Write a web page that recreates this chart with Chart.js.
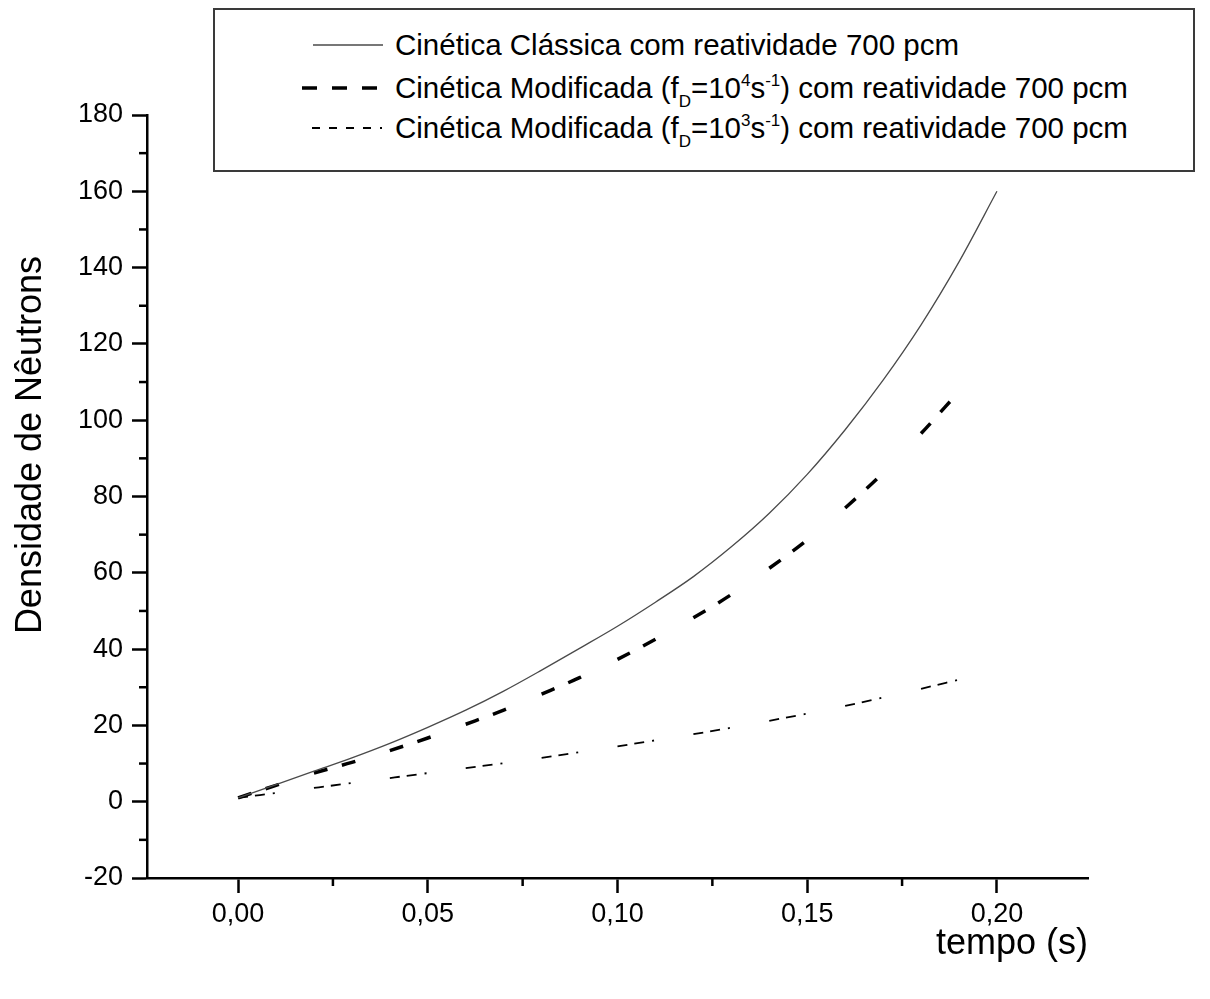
<!DOCTYPE html>
<html>
<head>
<meta charset="utf-8">
<script src="https://cdn.jsdelivr.net/npm/chart.js@4.4.1/dist/chart.umd.min.js"></script>
<style>
  html, body { margin: 0; padding: 0; background: #fff; }
  #wrap { position: relative; width: 1210px; height: 999px; }
  #chartLegend {
    position: absolute; left: 213px; top: 8px; width: 982px; height: 164px;
    box-sizing: border-box; border: 2px solid #3a3a3a; background: #fff;
    font-family: "Liberation Sans", Arial, sans-serif; font-size: 29.5px; color: #000;
  }
  .legend-row { position: absolute; left: 85px; height: 40px; display: flex; align-items: center; white-space: nowrap; }
  .legend-row svg { width: 84px; height: 20px; margin-right: 11px; flex: none; }
  .legend-row sub { font-size: 17px; line-height: 0; vertical-align: -9px; }
  .legend-row sup { font-size: 17px; line-height: 0; vertical-align: 12px; }
</style>
</head>
<body>
<div id="wrap">
  <canvas id="kineticsChart" width="1210" height="999"></canvas>
  <div id="chartLegend"></div>
</div>
<script>
// tempo (s)
const tempo = [0.00, 0.01, 0.02, 0.03, 0.04, 0.05, 0.06, 0.07, 0.08, 0.09, 0.10,
               0.11, 0.12, 0.13, 0.14, 0.15, 0.16, 0.17, 0.18, 0.19, 0.20];

// densidade de neutrons
const classica = [1, 4.5, 8, 11.5, 15.3, 19.5, 24, 29, 34.5, 40.2, 46,
                  52.3, 59, 66.8, 75.6, 85.8, 97.5, 110.5, 125, 141.5, 160];
const modificada4 = [1, 4.3, 7.5, 10.3, 13.4, 16.7, 20.3, 24, 28.2, 32.5, 37.3,
                     42.6, 48.2, 54.3, 61.2, 68.6, 77, 86.2, 96.5, 107.5];
const modificada3 = [1, 2.3, 3.6, 4.9, 6.2, 7.5, 8.8, 10.1, 11.5, 13, 14.5,
                     16.1, 17.7, 19.4, 21.2, 23.1, 25.1, 27.3, 29.6, 32];

const xTicks = [0, 0.05, 0.10, 0.15, 0.20];
const xMinorTicks = [0.025, 0.075, 0.125, 0.175];
const yMinorTicks = [-10, 10, 30, 50, 70, 90, 110, 130, 150, 170];

const legendLabels = [
    'Cinética Clássica com reatividade 700 pcm',
    'Cinética Modificada (f<sub>D</sub>=10<sup>4</sup>s<sup>-1</sup>) com reatividade 700 pcm',
    'Cinética Modificada (f<sub>D</sub>=10<sup>3</sup>s<sup>-1</sup>) com reatividade 700 pcm'
];
const legendDash = ['', '15 15', '8 9 8 9 8 9 8 9 2 40'];
const legendSampleFrom = [13, 2, 12];
const legendSampleTo = [83, 77, 82];
const legendRowTop = [15, 58, 98];

const FONT = '"Liberation Sans", Arial, sans-serif';

function toPoints(values) {
    return values.map((v, i) => ({ x: tempo[i], y: v }));
}

// restart the dash pattern every two intervals, like Origin does
function dashRestart(ctx) {
    return Math.floor(ctx.p0DataIndex / 2) % 2 ? 0.001 : 0;
}

const minorTicks = {
    id: 'minorTicks',
    afterDraw(chart) {
        const { ctx, chartArea, scales: { x, y } } = chart;
        ctx.save();
        ctx.strokeStyle = '#000';
        ctx.lineWidth = 2.5;
        yMinorTicks.forEach(v => {
            const py = y.getPixelForValue(v);
            ctx.beginPath();
            ctx.moveTo(chartArea.left - 8, py);
            ctx.lineTo(chartArea.left, py);
            ctx.stroke();
        });
        xMinorTicks.forEach(v => {
            const px = x.getPixelForValue(v);
            ctx.beginPath();
            ctx.moveTo(px, chartArea.bottom);
            ctx.lineTo(px, chartArea.bottom + 8);
            ctx.stroke();
        });
        ctx.restore();
    }
};

const yTitle = {
    id: 'yTitle',
    afterDraw(chart) {
        const ctx = chart.ctx;
        ctx.save();
        ctx.translate(31, 445);
        ctx.rotate(-Math.PI / 2);
        ctx.font = '36px ' + FONT;
        ctx.fillStyle = '#000';
        ctx.textAlign = 'center';
        ctx.textBaseline = 'middle';
        ctx.fillText('Densidade de Nêutrons', 0, 0);
        ctx.restore();
    }
};

const htmlLegend = {
    id: 'htmlLegend',
    afterUpdate(chart) {
        const box = document.getElementById('chartLegend');
        box.innerHTML = '';
        chart.data.datasets.forEach((ds, i) => {
            const row = document.createElement('div');
            row.className = 'legend-row';
            row.style.top = legendRowTop[i] + 'px';
            const dash = legendDash[i] ? ' stroke-dasharray="' + legendDash[i] + '"' : '';
            row.innerHTML =
                '<svg viewBox="0 0 84 20"><line x1="' + legendSampleFrom[i] + '" y1="10" x2="' + legendSampleTo[i] +
                '" y2="10" stroke="' + ds.borderColor + '" stroke-width="' + ds.borderWidth + '"' + dash + '/></svg>' +
                '<span>' + legendLabels[i] + '</span>';
            box.appendChild(row);
        });
    }
};

document.addEventListener('DOMContentLoaded', function() {
    const ctx = document.getElementById('kineticsChart').getContext('2d');
    new Chart(ctx, {
        type: 'line',
        data: {
            datasets: [{
                label: 'Cinética Clássica com reatividade 700 pcm',
                data: toPoints(classica),
                borderColor: '#4a4a4a',
                borderWidth: 1.3
            }, {
                label: 'Cinética Modificada (fD=10^4 s^-1) com reatividade 700 pcm',
                data: toPoints(modificada4),
                borderColor: '#000',
                borderWidth: 3.5,
                borderDash: [14, 15, 14, 400],
                segment: { borderDashOffset: dashRestart }
            }, {
                label: 'Cinética Modificada (fD=10^3 s^-1) com reatividade 700 pcm',
                data: toPoints(modificada3),
                borderColor: '#000',
                borderWidth: 1.8,
                borderDash: [10, 7, 10, 8, 2, 400],
                segment: { borderDashOffset: dashRestart }
            }]
        },
        options: {
            responsive: false,
            animation: false,
            parsing: false,
            layout: { padding: { top: 115, right: 122, left: 0, bottom: 0 } },
            elements: {
                point: { radius: 0 },
                line: { fill: false, cubicInterpolationMode: 'monotone' }
            },
            plugins: {
                legend: { display: false },
                tooltip: { enabled: false }
            },
            scales: {
                x: {
                    type: 'linear',
                    min: -0.024,
                    max: 0.224,
                    afterFit: s => { s.height = 121; },
                    afterBuildTicks: s => { s.ticks = xTicks.map(v => ({ value: v })); },
                    grid: { drawOnChartArea: false, tickLength: 15, tickWidth: 2.5, tickColor: '#000' },
                    border: { color: '#000', width: 2.5 },
                    ticks: {
                        padding: 5,
                        color: '#000',
                        font: { family: FONT, size: 27 },
                        maxRotation: 0,
                        callback: v => v.toFixed(2).replace('.', ',')
                    },
                    title: {
                        display: true,
                        text: 'tempo (s)',
                        align: 'end',
                        color: '#000',
                        font: { family: FONT, size: 36 },
                        padding: { top: 0, bottom: 33 }
                    }
                },
                y: {
                    min: -20,
                    max: 180,
                    afterFit: s => { s.width = 147; },
                    grid: { drawOnChartArea: false, tickLength: 15, tickWidth: 2.5, tickColor: '#000' },
                    border: { color: '#000', width: 2.5 },
                    ticks: {
                        stepSize: 20,
                        padding: 9,
                        color: '#000',
                        font: { family: FONT, size: 27 }
                    }
                }
            }
        },
        plugins: [minorTicks, yTitle, htmlLegend]
    });
});
</script>
</body>
</html>
